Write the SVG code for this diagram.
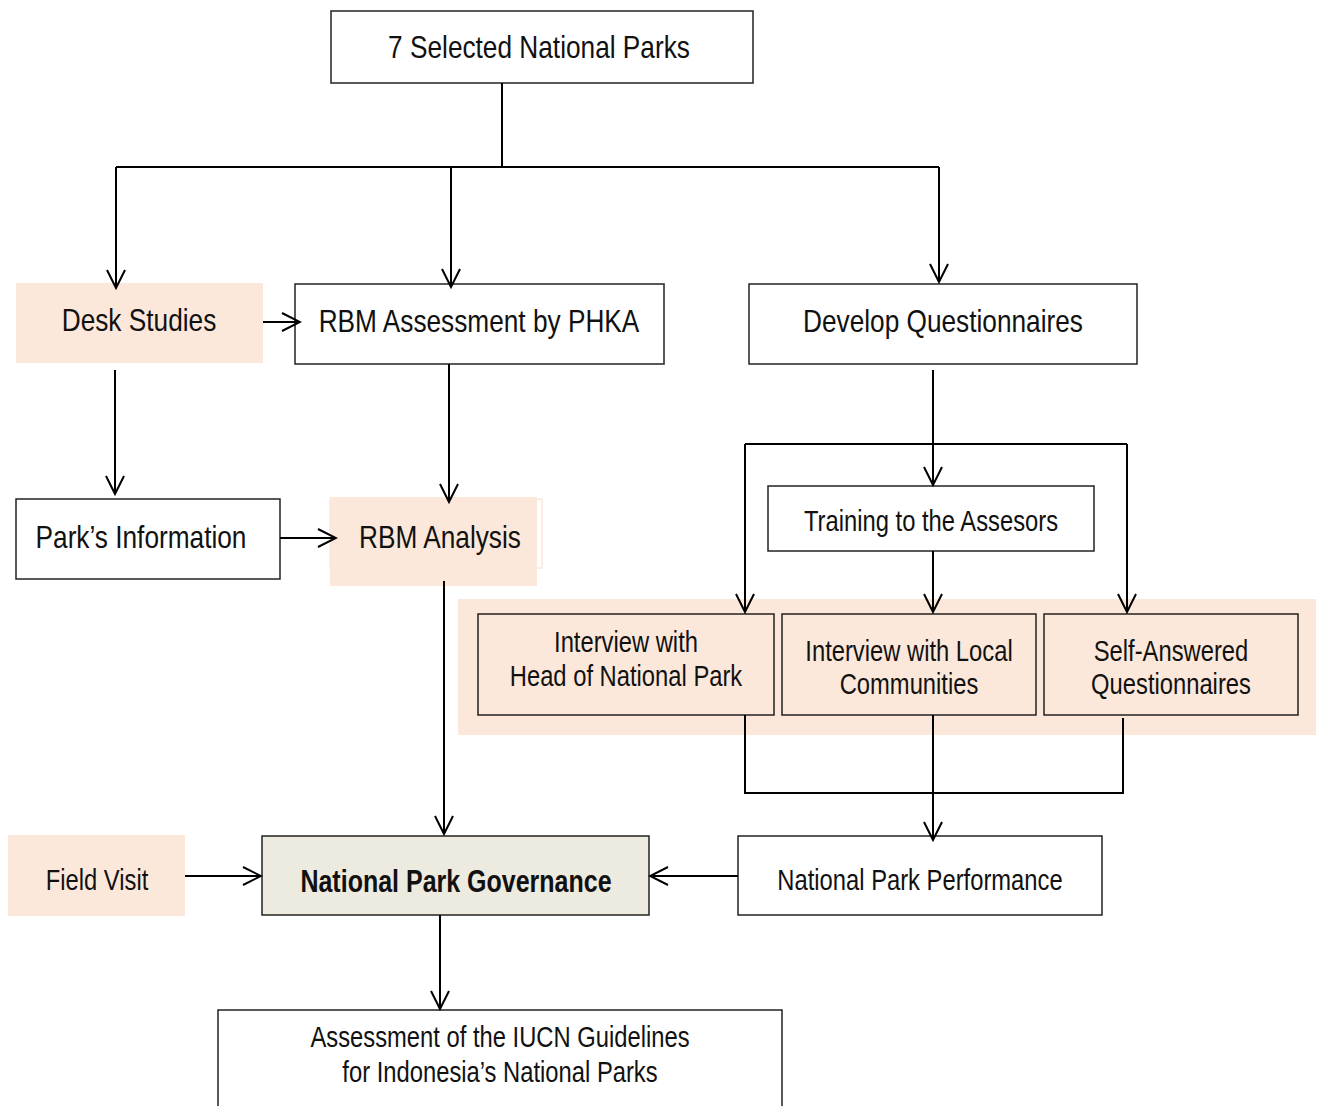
<svg xmlns="http://www.w3.org/2000/svg" width="1322" height="1106" viewBox="0 0 1322 1106">
<defs>
<marker id="arr" markerUnits="userSpaceOnUse" markerWidth="24" markerHeight="24" viewBox="0 0 24 24" refX="22" refY="12" orient="auto">
<path d="M4,3 L22,12 L4,21" fill="none" stroke="#000" stroke-width="2"/>
</marker>
</defs>
<style>
.box{fill:#fff;stroke:#222;stroke-width:1.5}
.peach{fill:#fce8da;stroke:none}
.pbox{fill:#fce8da;stroke:#222;stroke-width:1.5}
.gbox{fill:#edeae0;stroke:#222;stroke-width:1.5}
.t{font-family:"Liberation Sans Narrow","Liberation Sans",Arial,sans-serif;font-size:32px;fill:#111;text-anchor:middle;dominant-baseline:central}
.s{font-size:29px}
.b{font-weight:bold;font-size:30.5px}
.c{fill:none;stroke:#000;stroke-width:2}
.a{marker-end:url(#arr)}
</style>
<rect x="0" y="0" width="1322" height="1106" fill="#fff"/>
<rect class="peach" x="458" y="599" width="858" height="136"/>
<g id="n-top"><rect class="box" x="331" y="11" width="422" height="72"/><text class="t" transform="translate(539 47) scale(0.82 1)">7 Selected National Parks</text></g>
<g id="n-desk"><rect class="peach" x="16" y="283" width="247" height="80"/><text class="t" transform="translate(139 320) scale(0.82 1)">Desk Studies</text></g>
<g id="n-rbmassess"><rect class="box" x="295" y="284" width="369" height="80"/><text class="t" transform="translate(479 321) scale(0.82 1)">RBM Assessment by PHKA</text></g>
<g id="n-devq"><rect class="box" x="749" y="284" width="388" height="80"/><text class="t" transform="translate(943 321) scale(0.82 1)">Develop Questionnaires</text></g>
<g id="n-parkinfo"><rect class="box" x="16" y="499" width="264" height="80"/><text class="t" transform="translate(141 537) scale(0.82 1)">Park’s Information</text></g>
<g id="n-rbmanalysis"><rect x="330" y="499" width="212" height="69" fill="none" stroke="#fce8da" stroke-width="1.5"/><rect class="peach" x="330" y="497" width="207" height="89"/><text class="t" transform="translate(440 537) scale(0.82 1)">RBM Analysis</text></g>
<g id="n-training"><rect class="box" x="768" y="486" width="326" height="65"/><text class="t s" transform="translate(931 521) scale(0.82 1)">Training to the Assesors</text></g>
<g id="n-head"><rect class="pbox" x="478" y="614" width="296" height="101"/><text class="t s" transform="translate(626 642) scale(0.82 1)">Interview with</text><text class="t s" transform="translate(626 676) scale(0.82 1)">Head of National Park</text></g>
<g id="n-local"><rect class="pbox" x="782" y="614" width="254" height="101"/><text class="t s" transform="translate(909 651) scale(0.82 1)">Interview with Local</text><text class="t s" transform="translate(909 684) scale(0.82 1)">Communities</text></g>
<g id="n-self"><rect class="pbox" x="1044" y="614" width="254" height="101"/><text class="t s" transform="translate(1171 651) scale(0.82 1)">Self-Answered</text><text class="t s" transform="translate(1171 684) scale(0.82 1)">Questionnaires</text></g>
<g id="n-perf"><rect class="box" x="738" y="836" width="364" height="79"/><text class="t s" transform="translate(920 880) scale(0.82 1)">National Park Performance</text></g>
<g id="n-gov"><rect class="gbox" x="262" y="836" width="387" height="79"/><text class="t b" transform="translate(456 882) scale(0.82 1)">National Park Governance</text></g>
<g id="n-field"><rect class="peach" x="8" y="835" width="177" height="81"/><text class="t s" transform="translate(97 880) scale(0.82 1)">Field Visit</text></g>
<g id="n-iucn"><rect class="box" x="218" y="1010" width="564" height="110"/><text class="t s" transform="translate(500 1037) scale(0.82 1)">Assessment of the IUCN Guidelines</text><text class="t s" transform="translate(500 1072) scale(0.82 1)">for Indonesia’s National Parks</text></g>
<g id="connectors">
<path class="c" d="M502,83 V167 M116,167 H939"/>
<path class="c a" d="M116,167 V288"/>
<path class="c a" d="M451,167 V287"/>
<path class="c a" d="M939,167 V282"/>
<path class="c a" d="M263,322 H300"/>
<path class="c a" d="M115,370 V494"/>
<path class="c a" d="M449,364 V502"/>
<path class="c a" d="M280,538 H336"/>
<path class="c a" d="M444,581 V834"/>
<path class="c" d="M745,444 H1127"/>
<path class="c a" d="M933,370 V485"/>
<path class="c a" d="M745,444 V612"/>
<path class="c a" d="M1127,444 V612"/>
<path class="c a" d="M933,551 V612"/>
<path class="c" d="M745,715 V793 H1123 V718"/>
<path class="c a" d="M933,715 V840"/>
<path class="c a" d="M738,876 H650"/>
<path class="c a" d="M185,876 H261"/>
<path class="c a" d="M440,915 V1009"/>
</g>
</svg>
